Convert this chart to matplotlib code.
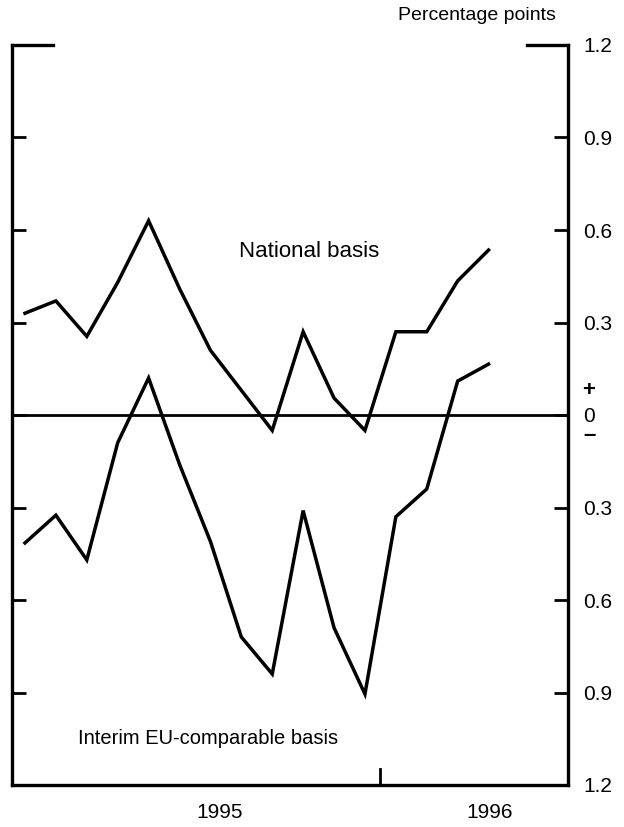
import matplotlib
matplotlib.use("Agg")
import matplotlib.pyplot as plt
import numpy as np

plt.rcParams['font.family'] = ['Liberation Sans', 'DejaVu Sans']

# Monthly observations, Jan 1995 onward
months = list(range(16))
national = [0.33, 0.37, 0.255, 0.43, 0.63, 0.41, 0.21, 0.08, -0.05, 0.27,
            0.055, -0.05, 0.27, 0.27, 0.435, 0.535]
eu_interim = [-0.415, -0.325, -0.47, -0.09, 0.12, -0.16, -0.41, -0.72, -0.84,
              -0.31, -0.69, -0.905, -0.33, -0.24, 0.11, 0.165]
ytick_vals = [1.2, 0.9, 0.6, 0.3, 0.0, -0.3, -0.6, -0.9, -1.2]
ytick_labels = ["1.2", "0.9", "0.6", "0.3", "0", "0.3", "0.6", "0.9", "1.2"]
year_labels = ["1995", "1996"]
year_label_pos = [6.3, 15.05]
year_break = 11.5

fig = plt.figure(figsize=(6.24, 8.27), dpi=100)
ax = fig.add_axes([12/624, 1-785/827, (568-12)/624, (785-45)/827])

lw = 2.5
ax.plot(months, national, color='black', lw=lw, solid_joinstyle='miter')
ax.plot(months, eu_interim, color='black', lw=lw, solid_joinstyle='miter')
ax.axhline(0, color='black', lw=2.0)

ax.set_xlim(-0.42, 17.57)
ax.set_ylim(-1.2, 1.2)

for s in ['left', 'right', 'bottom']:
    ax.spines[s].set_linewidth(2.4)
ax.spines['top'].set_visible(False)
# short top corner segments
seg = 41/556
ax.plot([0, seg], [1, 1], transform=ax.transAxes, color='black', lw=2.4,
        clip_on=False, solid_capstyle='projecting')
ax.plot([1-seg, 1], [1, 1], transform=ax.transAxes, color='black', lw=2.4,
        clip_on=False, solid_capstyle='projecting')
# year separator tick on bottom
ax.plot([year_break, year_break], [0, 16/740], transform=ax.get_xaxis_transform(),
        color='black', lw=2.0, clip_on=False)

ax.set_xticks([])
ax.yaxis.tick_right()
ax.set_yticks(ytick_vals)
ax.set_yticklabels(ytick_labels)
ax.tick_params(axis='y', which='both', direction='in', length=10, width=2.0,
               left=True, right=True, labelleft=False, labelright=True,
               labelsize=15, pad=11)
# hide ticks at +-1.2 (covered by corners)
for t in ax.yaxis.get_major_ticks():
    if abs(abs(t.get_loc()) - 1.2) < 1e-6:
        t.tick1line.set_visible(False)
        t.tick2line.set_visible(False)

for lab, pos in zip(year_labels, year_label_pos):
    ax.text(pos, -27/740, lab, transform=ax.get_xaxis_transform(),
            ha='center', va='center', fontsize=15)

ax.text(1.0 - 12/556, 1.0 + 30/740, "Percentage points", transform=ax.transAxes,
        ha='right', va='center', fontsize=14)

ax.text(1.0 + 21/556, 0.5 + 25/740, "+", transform=ax.transAxes,
        ha='center', va='center', fontsize=16, fontweight='bold')
ax.text(1.0 + 21/556, 0.5 - 21/740, "\u2013", transform=ax.transAxes,
        ha='center', va='center', fontsize=16, fontweight='bold')

ax.text(9.2, 0.53, "National basis", ha='center', va='center', fontsize=16)
ax.text(1.7, -1.05, "Interim EU-comparable basis", ha='left', va='center',
        fontsize=14.5)

fig.savefig("out.png", dpi=100)
